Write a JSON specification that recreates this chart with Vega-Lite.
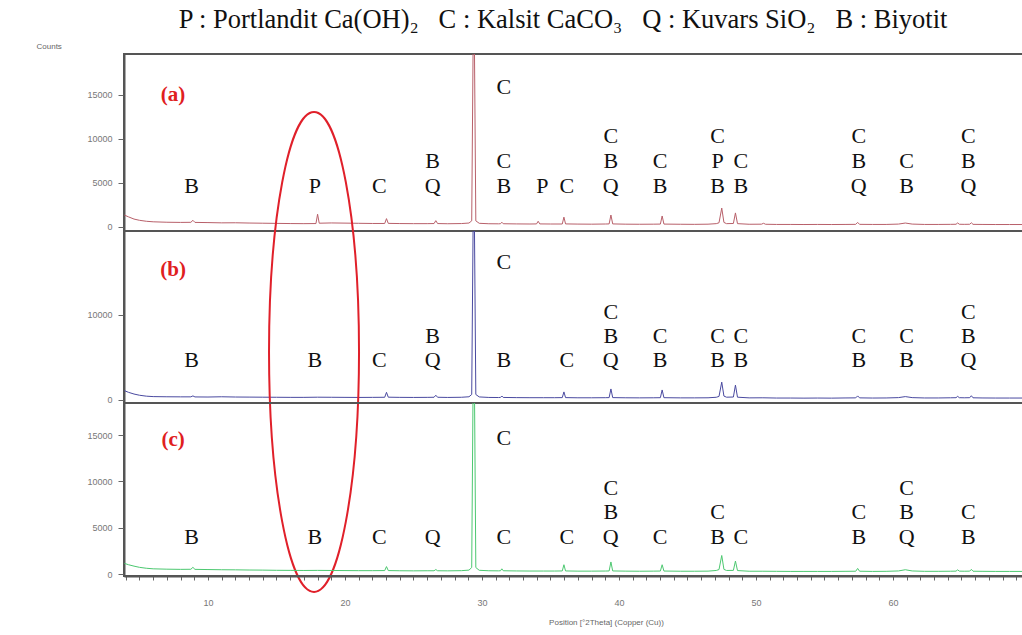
{
  "$schema": "https://vega.github.io/schema/vega-lite/v6.json",
  "padding": {"left": 35, "top": 6, "right": 0, "bottom": 2},
  "background": "white",
  "spacing": 0,
  "bounds": "flush",
  "title": {
    "text": "P : Portlandit Ca(OH)₂\u00a0\u00a0 C : Kalsit CaCO₃\u00a0\u00a0 Q : Kuvars SiO₂\u00a0\u00a0 B : Biyotit",
    "font": "Liberation Serif",
    "fontSize": 26.5,
    "fontWeight": "normal",
    "color": "#111111",
    "anchor": "middle",
    "dx": 30,
    "offset": 8
  },
  "config": {
    "view": {"stroke": "#555555", "strokeWidth": 2},
    "axis": {
      "grid": false,
      "labelFont": "Liberation Sans",
      "labelFontSize": 9,
      "labelColor": "#777777",
      "tickColor": "#666666",
      "domainColor": "#555555",
      "domainWidth": 2,
      "titleFont": "Liberation Sans",
      "titleFontSize": 8,
      "titleFontWeight": "normal",
      "titleColor": "#666666"
    },
    "text": {"font": "Liberation Serif"}
  },
  "datasets": {
    "a": [
      {"t":3.9,"c":1350},{"t":4.2,"c":1150},{"t":4.6,"c":900},{"t":5.0,"c":760},{"t":5.5,"c":650},{"t":6.0,"c":590},{"t":7.0,"c":540},{"t":8.0,"c":520},
      {"t":8.75,"c":530},{"t":8.9,"c":760},{"t":9.05,"c":520},
      {"t":10.0,"c":500},{"t":11.0,"c":470},{"t":12.0,"c":480},{"t":13.0,"c":450},{"t":14.0,"c":430},{"t":15.0,"c":410},{"t":16.0,"c":390},{"t":17.0,"c":380},
      {"t":17.88,"c":390},{"t":18.0,"c":1450},{"t":18.12,"c":430},
      {"t":19.0,"c":460},{"t":20.0,"c":440},{"t":21.0,"c":420},{"t":22.0,"c":400},
      {"t":22.9,"c":400},{"t":23.03,"c":950},{"t":23.16,"c":410},
      {"t":24.0,"c":390},{"t":25.0,"c":380},{"t":26.0,"c":380},
      {"t":26.5,"c":390},{"t":26.63,"c":720},{"t":26.76,"c":390},
      {"t":27.5,"c":370},{"t":28.5,"c":390},{"t":29.05,"c":450},
      {"t":29.25,"c":700},{"t":29.4,"c":30000},{"t":29.55,"c":700},
      {"t":29.8,"c":420},{"t":30.5,"c":370},{"t":31.2,"c":360},
      {"t":31.35,"c":370},{"t":31.45,"c":540},{"t":31.55,"c":370},
      {"t":32.5,"c":350},{"t":33.5,"c":340},
      {"t":33.98,"c":350},{"t":34.1,"c":650},{"t":34.22,"c":350},
      {"t":35.0,"c":340},
      {"t":35.86,"c":340},{"t":35.98,"c":1120},{"t":36.1,"c":350},
      {"t":37.0,"c":330},{"t":38.0,"c":320},{"t":39.0,"c":340},
      {"t":39.28,"c":350},{"t":39.41,"c":1360},{"t":39.54,"c":350},
      {"t":40.5,"c":320},{"t":41.5,"c":310},{"t":42.5,"c":320},
      {"t":43.02,"c":330},{"t":43.15,"c":1250},{"t":43.28,"c":330},
      {"t":44.5,"c":310},{"t":45.5,"c":300},{"t":46.5,"c":320},{"t":47.1,"c":380},
      {"t":47.3,"c":480},{"t":47.5,"c":2150},{"t":47.66,"c":520},{"t":47.85,"c":380},
      {"t":48.35,"c":400},{"t":48.5,"c":1600},{"t":48.65,"c":380},
      {"t":49.5,"c":310},{"t":50.4,"c":320},{"t":50.55,"c":420},{"t":50.7,"c":310},
      {"t":51.5,"c":290},{"t":52.5,"c":290},{"t":53.5,"c":280},{"t":54.5,"c":290},{"t":55.5,"c":280},{"t":56.5,"c":290},
      {"t":57.28,"c":300},{"t":57.42,"c":520},{"t":57.56,"c":300},
      {"t":58.5,"c":290},{"t":59.5,"c":290},{"t":60.4,"c":330},{"t":60.9,"c":450},{"t":61.4,"c":330},
      {"t":62.3,"c":290},{"t":63.3,"c":290},{"t":64.2,"c":300},
      {"t":64.6,"c":310},{"t":64.72,"c":460},{"t":64.84,"c":310},
      {"t":65.2,"c":300},
      {"t":65.6,"c":310},{"t":65.72,"c":480},{"t":65.84,"c":300},
      {"t":66.5,"c":290},{"t":67.5,"c":280},{"t":68.5,"c":280},{"t":70.0,"c":280}
    ],
    "b": [
      {"t":3.9,"c":1100},{"t":4.2,"c":900},{"t":4.6,"c":700},{"t":5.0,"c":560},{"t":5.5,"c":450},{"t":6.0,"c":400},{"t":7.0,"c":380},{"t":8.0,"c":370},
      {"t":8.75,"c":370},{"t":8.9,"c":480},{"t":9.05,"c":360},
      {"t":10.0,"c":350},{"t":11.0,"c":380},{"t":12.0,"c":350},{"t":13.0,"c":340},{"t":14.0,"c":330},{"t":15.0,"c":320},{"t":16.0,"c":310},{"t":17.0,"c":310},{"t":18.0,"c":330},{"t":19.0,"c":320},{"t":20.0,"c":310},{"t":21.0,"c":300},{"t":22.0,"c":310},
      {"t":22.9,"c":320},{"t":23.03,"c":900},{"t":23.16,"c":330},
      {"t":24.0,"c":310},{"t":25.0,"c":300},{"t":26.0,"c":310},
      {"t":26.5,"c":320},{"t":26.63,"c":560},{"t":26.76,"c":320},
      {"t":27.5,"c":300},{"t":28.5,"c":320},{"t":29.05,"c":380},
      {"t":29.25,"c":650},{"t":29.4,"c":30000},{"t":29.55,"c":650},
      {"t":29.8,"c":360},{"t":30.5,"c":300},{"t":31.2,"c":290},
      {"t":31.35,"c":300},{"t":31.45,"c":470},{"t":31.55,"c":300},
      {"t":32.5,"c":280},{"t":33.5,"c":270},{"t":34.5,"c":270},{"t":35.3,"c":270},
      {"t":35.86,"c":280},{"t":35.98,"c":950},{"t":36.1,"c":280},
      {"t":37.0,"c":260},{"t":38.0,"c":260},{"t":39.0,"c":270},
      {"t":39.28,"c":280},{"t":39.41,"c":1300},{"t":39.54,"c":280},
      {"t":40.5,"c":260},{"t":41.5,"c":250},{"t":42.5,"c":260},
      {"t":43.02,"c":270},{"t":43.15,"c":1180},{"t":43.28,"c":270},
      {"t":44.5,"c":250},{"t":45.5,"c":250},{"t":46.5,"c":260},{"t":47.1,"c":320},
      {"t":47.3,"c":420},{"t":47.5,"c":2100},{"t":47.66,"c":460},{"t":47.85,"c":330},
      {"t":48.35,"c":350},{"t":48.5,"c":1750},{"t":48.65,"c":330},
      {"t":49.5,"c":250},{"t":50.5,"c":260},{"t":51.5,"c":230},{"t":52.5,"c":230},{"t":53.5,"c":220},{"t":54.5,"c":230},{"t":55.5,"c":220},{"t":56.5,"c":240},
      {"t":57.28,"c":250},{"t":57.42,"c":480},{"t":57.56,"c":250},
      {"t":58.5,"c":230},{"t":59.5,"c":240},{"t":60.4,"c":280},{"t":60.9,"c":400},{"t":61.4,"c":280},
      {"t":62.3,"c":240},{"t":63.3,"c":240},{"t":64.2,"c":260},
      {"t":64.6,"c":270},{"t":64.72,"c":430},{"t":64.84,"c":270},
      {"t":65.2,"c":260},
      {"t":65.6,"c":270},{"t":65.72,"c":500},{"t":65.84,"c":260},
      {"t":66.5,"c":240},{"t":67.5,"c":230},{"t":68.5,"c":230},{"t":70.0,"c":230}
    ],
    "c": [
      {"t":3.9,"c":1150},{"t":4.2,"c":1000},{"t":4.6,"c":850},{"t":5.0,"c":720},{"t":5.5,"c":620},{"t":6.0,"c":560},{"t":7.0,"c":520},{"t":8.0,"c":500},
      {"t":8.75,"c":510},{"t":8.9,"c":720},{"t":9.05,"c":500},
      {"t":10.0,"c":480},{"t":11.0,"c":460},{"t":12.0,"c":450},{"t":13.0,"c":430},{"t":14.0,"c":420},{"t":15.0,"c":400},{"t":16.0,"c":390},{"t":17.0,"c":380},{"t":18.0,"c":390},{"t":19.0,"c":380},{"t":20.0,"c":370},{"t":21.0,"c":360},{"t":22.0,"c":360},
      {"t":22.9,"c":370},{"t":23.03,"c":800},{"t":23.16,"c":370},
      {"t":24.0,"c":350},{"t":25.0,"c":340},{"t":26.0,"c":350},
      {"t":26.5,"c":350},{"t":26.63,"c":480},{"t":26.76,"c":350},
      {"t":27.5,"c":340},{"t":28.5,"c":360},{"t":29.05,"c":420},
      {"t":29.25,"c":700},{"t":29.4,"c":30000},{"t":29.55,"c":700},
      {"t":29.8,"c":400},{"t":30.5,"c":350},{"t":31.2,"c":340},
      {"t":31.35,"c":350},{"t":31.45,"c":560},{"t":31.55,"c":350},
      {"t":32.5,"c":330},{"t":33.5,"c":320},{"t":34.5,"c":320},{"t":35.3,"c":320},
      {"t":35.86,"c":330},{"t":35.98,"c":1000},{"t":36.1,"c":330},
      {"t":37.0,"c":310},{"t":38.0,"c":310},{"t":39.0,"c":320},
      {"t":39.28,"c":330},{"t":39.41,"c":1300},{"t":39.54,"c":330},
      {"t":40.5,"c":310},{"t":41.5,"c":300},{"t":42.5,"c":310},
      {"t":43.02,"c":320},{"t":43.15,"c":1000},{"t":43.28,"c":320},
      {"t":44.5,"c":300},{"t":45.5,"c":300},{"t":46.5,"c":310},{"t":47.1,"c":380},
      {"t":47.3,"c":480},{"t":47.5,"c":2000},{"t":47.66,"c":500},{"t":47.85,"c":380},
      {"t":48.35,"c":390},{"t":48.5,"c":1400},{"t":48.65,"c":370},
      {"t":49.5,"c":300},{"t":50.5,"c":300},{"t":51.5,"c":290},{"t":52.5,"c":280},{"t":53.5,"c":280},{"t":54.5,"c":280},{"t":55.5,"c":280},{"t":56.5,"c":290},
      {"t":57.28,"c":300},{"t":57.42,"c":600},{"t":57.56,"c":300},
      {"t":58.5,"c":280},{"t":59.5,"c":290},{"t":60.4,"c":330},{"t":60.9,"c":460},{"t":61.4,"c":330},
      {"t":62.3,"c":290},{"t":63.3,"c":290},{"t":64.2,"c":300},
      {"t":64.6,"c":310},{"t":64.72,"c":450},{"t":64.84,"c":310},
      {"t":65.2,"c":300},
      {"t":65.6,"c":310},{"t":65.72,"c":500},{"t":65.84,"c":300},
      {"t":66.5,"c":290},{"t":67.5,"c":280},{"t":68.5,"c":280},{"t":70.0,"c":280}
    ],
    "labels": [
      {"p":"a","t":8.8,"y":4660,"s":"B"},
      {"p":"a","t":17.8,"y":4660,"s":"P"},
      {"p":"a","t":22.5,"y":4660,"s":"C"},
      {"p":"a","t":26.4,"y":7500,"s":"B"},
      {"p":"a","t":26.4,"y":4660,"s":"Q"},
      {"p":"a","t":31.6,"y":15900,"s":"C"},
      {"p":"a","t":31.6,"y":7500,"s":"C"},
      {"p":"a","t":31.6,"y":4660,"s":"B"},
      {"p":"a","t":34.4,"y":4660,"s":"P"},
      {"p":"a","t":36.2,"y":4660,"s":"C"},
      {"p":"a","t":39.4,"y":10340,"s":"C"},
      {"p":"a","t":39.4,"y":7500,"s":"B"},
      {"p":"a","t":39.4,"y":4660,"s":"Q"},
      {"p":"a","t":43.0,"y":7500,"s":"C"},
      {"p":"a","t":43.0,"y":4660,"s":"B"},
      {"p":"a","t":47.2,"y":10340,"s":"C"},
      {"p":"a","t":47.2,"y":7500,"s":"P"},
      {"p":"a","t":47.2,"y":4660,"s":"B"},
      {"p":"a","t":48.9,"y":7500,"s":"C"},
      {"p":"a","t":48.9,"y":4660,"s":"B"},
      {"p":"a","t":57.5,"y":10340,"s":"C"},
      {"p":"a","t":57.5,"y":7500,"s":"B"},
      {"p":"a","t":57.5,"y":4660,"s":"Q"},
      {"p":"a","t":61.0,"y":7500,"s":"C"},
      {"p":"a","t":61.0,"y":4660,"s":"B"},
      {"p":"a","t":65.5,"y":10340,"s":"C"},
      {"p":"a","t":65.5,"y":7500,"s":"B"},
      {"p":"a","t":65.5,"y":4660,"s":"Q"},
      {"p":"b","t":8.8,"y":4700,"s":"B"},
      {"p":"b","t":17.8,"y":4700,"s":"B"},
      {"p":"b","t":22.5,"y":4700,"s":"C"},
      {"p":"b","t":26.4,"y":7530,"s":"B"},
      {"p":"b","t":26.4,"y":4700,"s":"Q"},
      {"p":"b","t":31.6,"y":16230,"s":"C"},
      {"p":"b","t":31.6,"y":4700,"s":"B"},
      {"p":"b","t":36.2,"y":4700,"s":"C"},
      {"p":"b","t":39.4,"y":10350,"s":"C"},
      {"p":"b","t":39.4,"y":7530,"s":"B"},
      {"p":"b","t":39.4,"y":4700,"s":"Q"},
      {"p":"b","t":43.0,"y":7530,"s":"C"},
      {"p":"b","t":43.0,"y":4700,"s":"B"},
      {"p":"b","t":47.2,"y":7530,"s":"C"},
      {"p":"b","t":47.2,"y":4700,"s":"B"},
      {"p":"b","t":48.9,"y":7530,"s":"C"},
      {"p":"b","t":48.9,"y":4700,"s":"B"},
      {"p":"b","t":57.5,"y":7530,"s":"C"},
      {"p":"b","t":57.5,"y":4700,"s":"B"},
      {"p":"b","t":61.0,"y":7530,"s":"C"},
      {"p":"b","t":61.0,"y":4700,"s":"B"},
      {"p":"b","t":65.5,"y":10350,"s":"C"},
      {"p":"b","t":65.5,"y":7530,"s":"B"},
      {"p":"b","t":65.5,"y":4700,"s":"Q"},
      {"p":"c","t":8.8,"y":4000,"s":"B"},
      {"p":"c","t":17.8,"y":4000,"s":"B"},
      {"p":"c","t":22.5,"y":4000,"s":"C"},
      {"p":"c","t":26.4,"y":4000,"s":"Q"},
      {"p":"c","t":31.6,"y":14690,"s":"C"},
      {"p":"c","t":31.6,"y":4000,"s":"C"},
      {"p":"c","t":36.2,"y":4000,"s":"C"},
      {"p":"c","t":39.4,"y":9290,"s":"C"},
      {"p":"c","t":39.4,"y":6700,"s":"B"},
      {"p":"c","t":39.4,"y":4000,"s":"Q"},
      {"p":"c","t":43.0,"y":4000,"s":"C"},
      {"p":"c","t":47.2,"y":6700,"s":"C"},
      {"p":"c","t":47.2,"y":4000,"s":"B"},
      {"p":"c","t":48.9,"y":4000,"s":"C"},
      {"p":"c","t":57.5,"y":6700,"s":"C"},
      {"p":"c","t":57.5,"y":4000,"s":"B"},
      {"p":"c","t":61.0,"y":9290,"s":"C"},
      {"p":"c","t":61.0,"y":6700,"s":"B"},
      {"p":"c","t":61.0,"y":4000,"s":"Q"},
      {"p":"c","t":65.5,"y":6700,"s":"C"},
      {"p":"c","t":65.5,"y":4000,"s":"B"}
    ],
    "tags": [
      {"p":"a","t":7.45,"y":15000,"s":"(a)"},
      {"p":"b","t":7.45,"y":15290,"s":"(b)"},
      {"p":"c","t":7.45,"y":14470,"s":"(c)"}
    ],
    "ellipse": [
      {"t":17.74,"y":5650}
    ]
  },
  "vconcat": [
    {
      "width": 906,
      "height": 177,
      "layer": [
        {
          "data": {"name": "a"},
          "mark": {"type": "line", "color": "#b8606a", "strokeWidth": 1, "clip": true},
          "encoding": {
            "x": {"field": "t", "type": "quantitative", "scale": {"domain": [3.87, 70], "nice": false, "zero": false}, "axis": null},
            "y": {"field": "c", "type": "quantitative", "scale": {"domain": [-455, 19650], "nice": false, "zero": false},
                  "axis": {"values": [0, 5000, 10000, 15000], "format": "d", "tickSize": 6, "labelPadding": 6, "title": "Counts", "titleAngle": 0, "titleAlign": "left", "titleBaseline": "middle", "titleX": -88, "titleY": -8}}
          }
        },
        {
          "data": {"name": "labels"},
          "transform": [{"filter": "datum.p == 'a'"}],
          "mark": {"type": "text", "fontSize": 22, "color": "#111111", "baseline": "middle", "align": "center"},
          "encoding": {
            "x": {"field": "t", "type": "quantitative"},
            "y": {"field": "y", "type": "quantitative"},
            "text": {"field": "s"}
          }
        },
        {
          "data": {"name": "tags"},
          "transform": [{"filter": "datum.p == 'a'"}],
          "mark": {"type": "text", "fontSize": 21, "fontWeight": "bold", "color": "#e0201e", "baseline": "middle", "align": "center"},
          "encoding": {
            "x": {"field": "t", "type": "quantitative"},
            "y": {"field": "y", "type": "quantitative"},
            "text": {"field": "s"}
          }
        }
      ]
    },
    {
      "width": 906,
      "height": 172,
      "layer": [
        {
          "data": {"name": "b"},
          "mark": {"type": "line", "color": "#4a4aa0", "strokeWidth": 1, "clip": true},
          "encoding": {
            "x": {"field": "t", "type": "quantitative", "scale": {"domain": [3.87, 70], "nice": false, "zero": false}, "axis": null},
            "y": {"field": "c", "type": "quantitative", "scale": {"domain": [-353, 19870], "nice": false, "zero": false},
                  "axis": {"values": [0, 10000], "format": "d", "tickSize": 6, "labelPadding": 6, "title": null}}
          }
        },
        {
          "data": {"name": "labels"},
          "transform": [{"filter": "datum.p == 'b'"}],
          "mark": {"type": "text", "fontSize": 22, "color": "#111111", "baseline": "middle", "align": "center"},
          "encoding": {
            "x": {"field": "t", "type": "quantitative"},
            "y": {"field": "y", "type": "quantitative"},
            "text": {"field": "s"}
          }
        },
        {
          "data": {"name": "tags"},
          "transform": [{"filter": "datum.p == 'b'"}],
          "mark": {"type": "text", "fontSize": 21, "fontWeight": "bold", "color": "#e0201e", "baseline": "middle", "align": "center"},
          "encoding": {
            "x": {"field": "t", "type": "quantitative"},
            "y": {"field": "y", "type": "quantitative"},
            "text": {"field": "s"}
          }
        },
        {
          "data": {"name": "ellipse"},
          "mark": {"type": "point", "shape": "M -0.1875 0 A 0.1875 1 0 1 1 0.1875 0 A 0.1875 1 0 1 1 -0.1875 0 Z", "size": 230400, "filled": false, "stroke": "#e0202a", "strokeWidth": 2, "opacity": 1},
          "encoding": {
            "x": {"field": "t", "type": "quantitative"},
            "y": {"field": "y", "type": "quantitative"}
          }
        }
      ]
    },
    {
      "width": 906,
      "height": 173,
      "layer": [
        {
          "data": {"name": "c"},
          "mark": {"type": "line", "color": "#4cc870", "strokeWidth": 1, "clip": true},
          "encoding": {
            "x": {"field": "t", "type": "quantitative", "scale": {"domain": [3.87, 70], "nice": false, "zero": false},
                  "axis": {"values": [4,5,6,7,8,9,10,11,12,13,14,15,16,17,18,19,20,21,22,23,24,25,26,27,28,29,30,31,32,33,34,35,36,37,38,39,40,41,42,43,44,45,46,47,48,49,50,51,52,53,54,55,56,57,58,59,60,61,62,63,64,65,66,67,68,69],
                           "tickCount": 200,
                           "format": "d",
                           "labelExpr": "datum.value % 10 === 0 ? datum.label : ''", "labelFlush": false, "labelOverlap": false,
                           "tickSize": 4, "labelPadding": 18, "title": "Position [°2Theta] (Copper (Cu))", "titlePadding": 11, "titleX": 482}},
            "y": {"field": "c", "type": "quantitative", "scale": {"domain": [-216, 18470], "nice": false, "zero": false},
                  "axis": {"values": [0, 5000, 10000, 15000], "format": "d", "tickSize": 6, "labelPadding": 6, "title": null}}
          }
        },
        {
          "data": {"name": "labels"},
          "transform": [{"filter": "datum.p == 'c'"}],
          "mark": {"type": "text", "fontSize": 22, "color": "#111111", "baseline": "middle", "align": "center"},
          "encoding": {
            "x": {"field": "t", "type": "quantitative"},
            "y": {"field": "y", "type": "quantitative"},
            "text": {"field": "s"}
          }
        },
        {
          "data": {"name": "tags"},
          "transform": [{"filter": "datum.p == 'c'"}],
          "mark": {"type": "text", "fontSize": 21, "fontWeight": "bold", "color": "#e0201e", "baseline": "middle", "align": "center"},
          "encoding": {
            "x": {"field": "t", "type": "quantitative"},
            "y": {"field": "y", "type": "quantitative"},
            "text": {"field": "s"}
          }
        }
      ]
    }
  ]
}
